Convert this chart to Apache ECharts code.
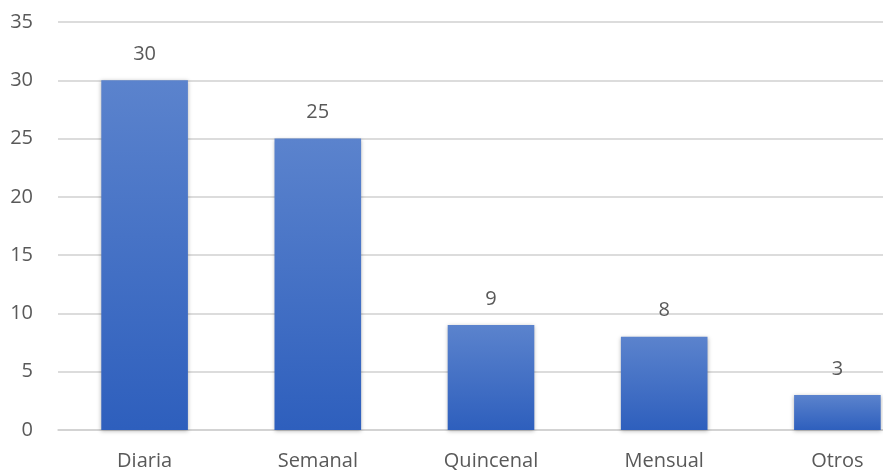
<!DOCTYPE html>
<html>
<head>
<meta charset="utf-8">
<script src="https://cdn.jsdelivr.net/npm/echarts@6/dist/echarts.min.js"></script>
<style>
  html, body { margin: 0; padding: 0; background: #ffffff; }
  #chart { width: 883px; height: 474px; }
</style>
</head>
<body>
<div id="chart"></div>
<script>
// Frecuencia de uso por categoría
const categories = ['Diaria', 'Semanal', 'Quincenal', 'Mensual', 'Otros'];
const values = [30, 25, 9, 8, 3];
const yTicks = [0, 5, 10, 15, 20, 25, 30, 35];

const textColor = '#595959';
const fontFamily = '"Open Sans", "Noto Sans", sans-serif';

const chart = echarts.init(document.getElementById('chart'), null, { renderer: 'canvas' });
chart.setOption({
  animation: false,
  backgroundColor: '#ffffff',
  // plot area runs past the right edge, so the last category is cut off
  grid: { left: 58, width: 866, top: 22, bottom: 44, containLabel: false, outerBoundsMode: 'none' },
  xAxis: {
    type: 'category',
    data: categories,
    axisLine: { show: true, lineStyle: { color: '#d0d0d0', width: 1.5 } },
    axisTick: { show: false },
    axisLabel: { color: textColor, fontSize: 20, fontFamily: fontFamily, margin: 21 }
  },
  yAxis: {
    type: 'value',
    min: yTicks[0],
    max: yTicks[yTicks.length - 1],
    interval: 5,
    axisLine: { show: false },
    axisTick: { show: false },
    axisLabel: { color: textColor, fontSize: 20, fontFamily: fontFamily, margin: 25 },
    splitLine: { lineStyle: { color: '#d0d0d0', width: 1.5 } }
  },
  series: [{
    type: 'bar',
    data: values,
    barWidth: '50%',
    itemStyle: {
      color: new echarts.graphic.LinearGradient(0, 0, 0, 1, [
        { offset: 0, color: '#5b83cd' },
        { offset: 1, color: '#2e5fbd' }
      ]),
      shadowColor: 'rgba(0,0,0,0.3)',
      shadowBlur: 4,
      shadowOffsetX: 0,
      shadowOffsetY: 1
    },
    label: {
      show: true,
      position: 'top',
      distance: 16,
      color: textColor,
      fontSize: 20,
      fontFamily: fontFamily
    }
  }]
});
</script>
</body>
</html>
